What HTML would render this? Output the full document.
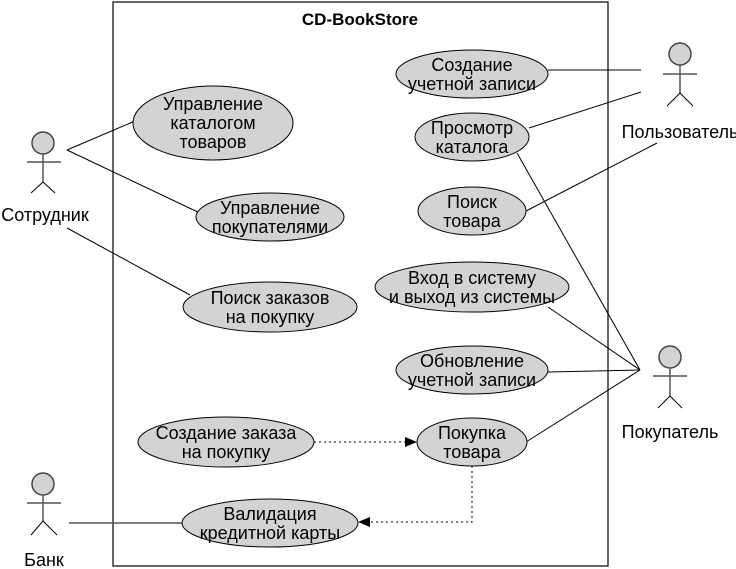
<!DOCTYPE html>
<html><head><meta charset="utf-8"><style>
html,body{margin:0;padding:0;background:#fff;}
svg{display:block;}
text{font-family:"Liberation Sans",Arial,sans-serif;font-size:18px;fill:#000;}
</style></head><body>
<svg width="736" height="569" viewBox="0 0 736 569" xmlns="http://www.w3.org/2000/svg">
<defs>
<marker id="ar" markerWidth="12" markerHeight="10" refX="11" refY="5" orient="auto" markerUnits="userSpaceOnUse">
<path d="M0,0 L12,5 L0,10 z" fill="#000"/>
</marker>
</defs>
<rect x="113" y="2" width="495" height="564" fill="none" stroke="#000" stroke-width="1.2"/>
<text x="360" y="25" text-anchor="middle" font-weight="bold" style="font-size:17px">CD-BookStore</text>

<!-- actors -->
<g stroke="#555" stroke-width="1.5" fill="none">
<g transform="translate(43,143)">
<circle cx="0" cy="0" r="11" fill="#d3d3d3" stroke="#444"/>
<line x1="0" y1="11" x2="0" y2="39"/><line x1="-16" y1="19" x2="18" y2="19"/>
<line x1="0" y1="39" x2="-12" y2="50" stroke="#000" stroke-width="1"/><line x1="0" y1="39" x2="12" y2="50" stroke="#000" stroke-width="1"/>
</g>
<g transform="translate(680,54)">
<circle cx="0" cy="0" r="11" fill="#d3d3d3" stroke="#444"/>
<line x1="0" y1="11" x2="0" y2="39"/><line x1="-17" y1="20" x2="17" y2="20"/>
<line x1="0" y1="39" x2="-13" y2="52" stroke="#000" stroke-width="1"/><line x1="0" y1="39" x2="13" y2="52" stroke="#000" stroke-width="1"/>
</g>
<g transform="translate(670,357)">
<circle cx="0" cy="0" r="11" fill="#d3d3d3" stroke="#444"/>
<line x1="0" y1="11" x2="0" y2="39"/><line x1="-17" y1="19" x2="17" y2="19"/>
<line x1="0" y1="39" x2="-12" y2="51" stroke="#000" stroke-width="1"/><line x1="0" y1="39" x2="12" y2="51" stroke="#000" stroke-width="1"/>
</g>
<g transform="translate(43,484)">
<circle cx="0" cy="0" r="11" fill="#d3d3d3" stroke="#444"/>
<line x1="0" y1="11" x2="0" y2="37"/><line x1="-16" y1="19" x2="18" y2="19"/>
<line x1="0" y1="37" x2="-12" y2="51" stroke="#000" stroke-width="1"/><line x1="0" y1="37" x2="14" y2="51" stroke="#000" stroke-width="1"/>
</g>
</g>
<text x="45" y="221" text-anchor="middle">Сотрудник</text>
<text x="680" y="138" text-anchor="middle">Пользователь</text>
<text x="670" y="438" text-anchor="middle">Покупатель</text>
<text x="44" y="566" text-anchor="middle">Банк</text>

<!-- association lines -->
<g stroke="#000" stroke-width="1">
<line x1="67" y1="150" x2="135" y2="121"/>
<line x1="67" y1="150" x2="204" y2="215"/>
<line x1="67" y1="228" x2="190" y2="295"/>
<line x1="548" y1="70" x2="641" y2="70"/>
<line x1="529" y1="128" x2="641" y2="92"/>
<line x1="526" y1="211" x2="657" y2="143"/>
<line x1="517" y1="153" x2="640" y2="370"/>
<line x1="548" y1="307" x2="640" y2="370"/>
<line x1="548" y1="372" x2="640" y2="370"/>
<line x1="526" y1="442" x2="640" y2="370"/>
<line x1="69" y1="523" x2="183" y2="523" stroke="#555" stroke-width="1.5"/>
</g>
<g stroke="#000" stroke-width="1" stroke-dasharray="2,3" fill="none">
<line x1="314" y1="442" x2="416" y2="442" marker-end="url(#ar)"/>
<polyline points="472,466 472,522 359,522" marker-end="url(#ar)"/>
</g>

<!-- use cases -->
<g fill="#d3d3d3" stroke="#000" stroke-width="1">
<ellipse cx="472" cy="74" rx="76" ry="24"/>
<ellipse cx="472" cy="137" rx="57" ry="24"/>
<ellipse cx="472" cy="211" rx="54" ry="24"/>
<ellipse cx="472" cy="287" rx="97" ry="25"/>
<ellipse cx="472" cy="370" rx="76" ry="24"/>
<ellipse cx="472" cy="442" rx="55" ry="24"/>
<ellipse cx="213" cy="123" rx="80" ry="37"/>
<ellipse cx="270" cy="217" rx="74" ry="24"/>
<ellipse cx="270" cy="307" rx="87" ry="25"/>
<ellipse cx="226" cy="442" rx="88" ry="25"/>
<ellipse cx="270" cy="523" rx="88" ry="24"/>
</g>
<g text-anchor="middle">
<text x="472" y="71">Создание</text><text x="472" y="90">учетной записи</text>
<text x="472" y="134">Просмотр</text><text x="472" y="153">каталога</text>
<text x="472" y="208">Поиск</text><text x="472" y="227">товара</text>
<text x="472" y="284">Вход в систему</text><text x="472" y="303">и выход из системы</text>
<text x="472" y="367">Обновление</text><text x="472" y="386">учетной записи</text>
<text x="472" y="439">Покупка</text><text x="472" y="458">товара</text>
<text x="213" y="110">Управление</text><text x="213" y="129">каталогом</text><text x="213" y="148">товаров</text>
<text x="270" y="214">Управление</text><text x="270" y="233">покупателями</text>
<text x="270" y="304">Поиск заказов</text><text x="270" y="323">на покупку</text>
<text x="226" y="439">Создание заказа</text><text x="226" y="458">на покупку</text>
<text x="270" y="520">Валидация</text><text x="270" y="539">кредитной карты</text>
</g>
</svg>
</body></html>
